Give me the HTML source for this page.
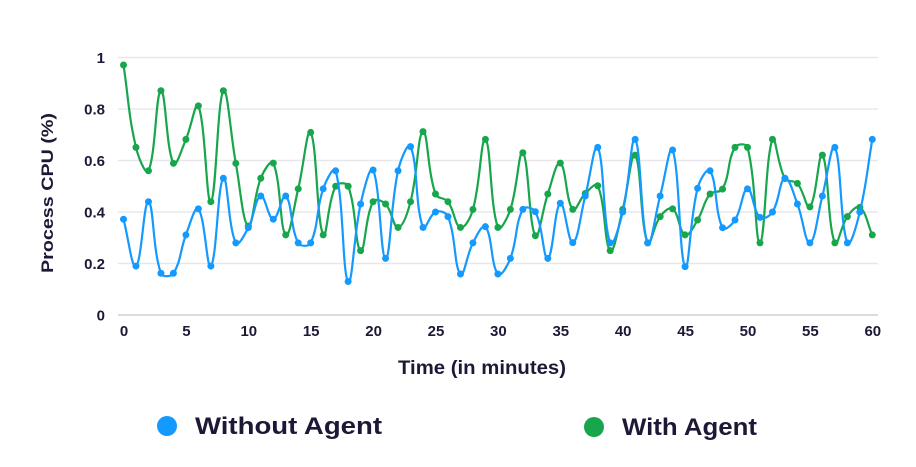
<!DOCTYPE html>
<html><head><meta charset="utf-8">
<style>
html,body{margin:0;padding:0;background:#fff;width:916px;height:467px;overflow:hidden}
svg{display:block}
text{font-family:"Liberation Sans",sans-serif;font-weight:bold;fill:#1c1836}
</style></head>
<body>
<svg id="c" width="916" height="467" viewBox="0 0 916 467" xmlns="http://www.w3.org/2000/svg">
<g stroke="#e8e8ec" stroke-width="1.5">
<line x1="118" y1="57.5" x2="878" y2="57.5"/>
<line x1="118" y1="109" x2="878" y2="109"/>
<line x1="118" y1="160.5" x2="878" y2="160.5"/>
<line x1="118" y1="212" x2="878" y2="212"/>
<line x1="118" y1="263.5" x2="878" y2="263.5"/>
</g>
<line x1="118" y1="315" x2="878" y2="315" stroke="#dcdce0" stroke-width="2"/>
<g font-size="15" text-anchor="end">
<text x="105" y="63">1</text>
<text x="105" y="114.5">0.8</text>
<text x="105" y="166">0.6</text>
<text x="105" y="217.5">0.4</text>
<text x="105" y="269">0.2</text>
<text x="105" y="320.5">0</text>
</g>
<g font-size="15" text-anchor="middle">
<text x="124" y="336">0</text>
<text x="186.4" y="336">5</text>
<text x="248.8" y="336">10</text>
<text x="311.2" y="336">15</text>
<text x="373.6" y="336">20</text>
<text x="436" y="336">25</text>
<text x="498.4" y="336">30</text>
<text x="560.8" y="336">35</text>
<text x="623.2" y="336">40</text>
<text x="685.6" y="336">45</text>
<text x="748" y="336">50</text>
<text x="810.4" y="336">55</text>
<text x="872.8" y="336">60</text>
</g>
<text x="398" y="374" font-size="19" textLength="168" lengthAdjust="spacingAndGlyphs">Time (in minutes)</text>
<text transform="translate(53,273) rotate(-90)" font-size="17" textLength="160" lengthAdjust="spacingAndGlyphs">Process CPU (%)</text>
<circle cx="167" cy="426" r="10" fill="#1499ff"/>
<text x="195" y="434" font-size="24" textLength="187" lengthAdjust="spacingAndGlyphs">Without Agent</text>
<circle cx="594" cy="427" r="10" fill="#17a64b"/>
<text x="622" y="435" font-size="24" textLength="135" lengthAdjust="spacingAndGlyphs">With Agent</text>
<g id="series"></g>
</svg>
<script>
var blue=[0.372,0.19,0.44,0.162,0.162,0.311,0.412,0.19,0.531,0.28,0.339,0.462,0.372,0.462,0.28,0.28,0.49,0.56,0.13,0.431,0.563,0.22,0.56,0.654,0.34,0.40,0.382,0.159,0.28,0.343,0.159,0.22,0.41,0.401,0.22,0.434,0.281,0.462,0.651,0.28,0.40,0.682,0.28,0.462,0.641,0.188,0.492,0.56,0.339,0.369,0.49,0.379,0.40,0.531,0.431,0.28,0.462,0.651,0.28,0.40,0.682];
var green=[0.971,0.651,0.56,0.871,0.589,0.682,0.812,0.44,0.871,0.589,0.345,0.531,0.59,0.311,0.49,0.709,0.311,0.50,0.50,0.25,0.44,0.431,0.34,0.44,0.712,0.47,0.44,0.34,0.41,0.682,0.34,0.41,0.63,0.308,0.47,0.59,0.41,0.472,0.502,0.25,0.41,0.621,0.28,0.382,0.412,0.311,0.369,0.47,0.489,0.651,0.651,0.28,0.682,0.53,0.511,0.42,0.621,0.28,0.382,0.418,0.311];
function X(i){return 123.5+i*12.48;}
function Y(v){return 315-v*257.5;}
function build(data,color){
  var p=data.map(function(v,i){return [X(i),Y(v)];});
  var t=0.4,n=p.length,cp=[];
  for(var i=0;i<n;i++){
    var prev=p[i>0?i-1:i],cur=p[i],next=p[i<n-1?i+1:i];
    var d01=Math.hypot(cur[0]-prev[0],cur[1]-prev[1]);
    var d12=Math.hypot(next[0]-cur[0],next[1]-cur[1]);
    var s01=d01/(d01+d12)||0,s12=d12/(d01+d12)||0;
    var fa=t*s01,fb=t*s12;
    cp.push({p:[cur[0]-fa*(next[0]-prev[0]),cur[1]-fa*(next[1]-prev[1])],n:[cur[0]+fb*(next[0]-prev[0]),cur[1]+fb*(next[1]-prev[1])]});
  }
  var d="M"+p[0][0].toFixed(2)+","+p[0][1].toFixed(2);
  for(var i=1;i<n;i++){
    d+=" C"+cp[i-1].n[0].toFixed(2)+","+cp[i-1].n[1].toFixed(2)+" "+cp[i].p[0].toFixed(2)+","+cp[i].p[1].toFixed(2)+" "+p[i][0].toFixed(2)+","+p[i][1].toFixed(2);
  }
  var s='<path d="'+d+'" fill="none" stroke="'+color+'" stroke-width="2.2" stroke-linejoin="round"/>';
  for(var i=0;i<n;i++){s+='<circle cx="'+p[i][0].toFixed(2)+'" cy="'+p[i][1].toFixed(2)+'" r="3.5" fill="'+color+'"/>';}
  return s;
}
document.getElementById('series').innerHTML=build(green,'#17a64b')+build(blue,'#1499ff');
</script>
</body></html>
